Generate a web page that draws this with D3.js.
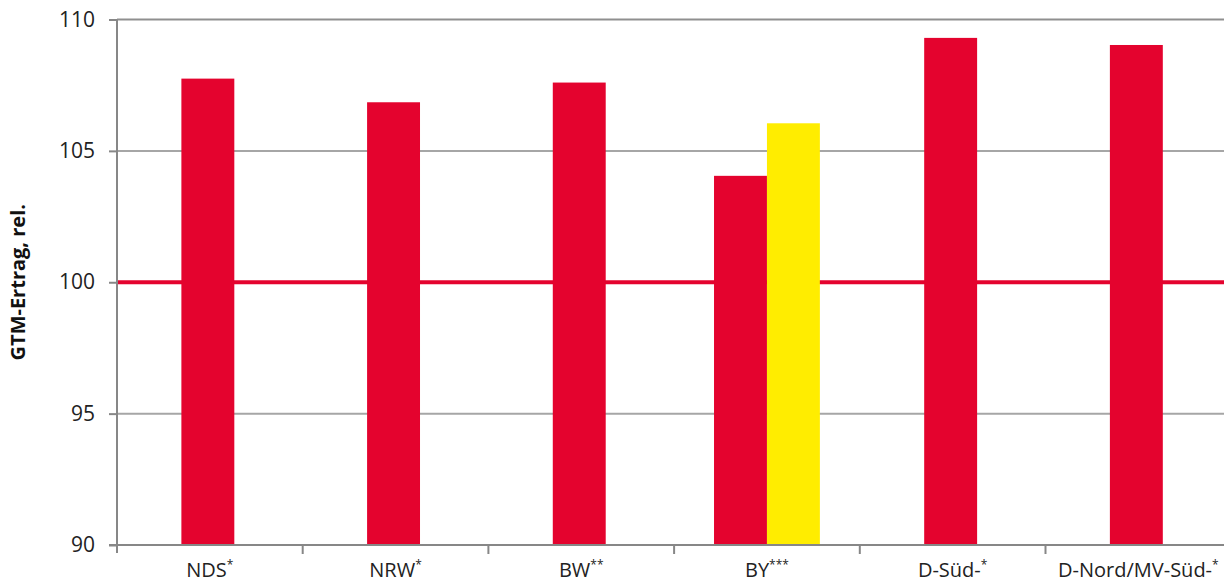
<!DOCTYPE html>
<html>
<head>
<meta charset="utf-8">
<script src="https://cdn.jsdelivr.net/npm/d3@7"></script>
<style>
  body { margin: 0; background: #fff; }
  svg { display: block; font-family: "Open Sans", "Noto Sans", sans-serif; }
</style>
</head>
<body>
<svg id="chart" width="1224" height="584"></svg>
<script>
// categories and their footnote marks
const categories = ["NDS", "NRW", "BW", "BY", "D-Süd-", "D-Nord/MV-Süd-"];
const marks = ["*", "*", "**", "***", "*", "*"];
// red series (all regions), yellow series (only BY)
const redValues = [107.75, 106.85, 107.6, 104.05, 109.3, 109.03];
const yellowValues = [null, null, null, 106.05, null, null];
const yTicks = [90, 95, 100, 105, 110];
const refValue = 100;

const red = "#e4032e", yellow = "#ffed00";
const svg = d3.select("#chart");
const margin = {left: 117, top: 19.5, bottom: 545};
const bandW = 185.7;

const x = d3.scaleBand()
    .domain(categories)
    .range([margin.left, margin.left + bandW * categories.length])
    .paddingInner(0).paddingOuter(0);
const y = d3.scaleLinear().domain([90, 110]).range([margin.bottom, margin.top]);
const barW = x.bandwidth() * 0.285;

// gridlines
svg.append("g").selectAll("line")
    .data(yTicks.filter(d => d !== 90 && d !== refValue)).enter()
    .append("line")
    .attr("x1", margin.left).attr("x2", 1224)
    .attr("y1", d => y(d)).attr("y2", d => y(d))
    .attr("stroke", d => d === 110 ? "#8f8f8f" : "#a6a6a6")
    .attr("stroke-width", 2);

// 100 reference line
svg.append("line")
    .attr("x1", margin.left).attr("x2", 1224)
    .attr("y1", y(refValue)).attr("y2", y(refValue))
    .attr("stroke", red)
    .attr("stroke-width", 4);

// red bars
svg.append("g").selectAll("rect")
    .data(categories).enter()
    .append("rect")
    .attr("x", function(d, i) {
        const c = x(d) + x.bandwidth() / 2;
        return yellowValues[i] !== null ? c - barW : c - barW / 2 - 2;
    })
    .attr("y", (d, i) => y(redValues[i]))
    .attr("width", barW)
    .attr("height", (d, i) => y(90) - y(redValues[i]))
    .attr("fill", red);

// yellow bars
svg.append("g").selectAll("rect")
    .data(categories.filter((d, i) => yellowValues[i] !== null)).enter()
    .append("rect")
    .attr("x", d => x(d) + x.bandwidth() / 2)
    .attr("y", d => y(yellowValues[categories.indexOf(d)]))
    .attr("width", barW)
    .attr("height", d => y(90) - y(yellowValues[categories.indexOf(d)]))
    .attr("fill", yellow);

// y axis
const yAxis = svg.append("g")
    .attr("transform", "translate(" + margin.left + ",0)")
    .call(d3.axisLeft(y).tickValues(yTicks).tickSize(8).tickPadding(14).tickFormat(d3.format("d")));
yAxis.select(".domain").attr("stroke", "#878787").attr("stroke-width", 2)
    .attr("d", "M0," + (margin.top) + "V" + (margin.bottom + 8));
yAxis.selectAll(".tick line").attr("stroke", "#878787").attr("stroke-width", 2);
yAxis.selectAll(".tick text")
    .style("font-size", "21px")
    .style("fill", "#222")
    .style("font-family", "'Open Sans', sans-serif");

// x axis
const xAxis = svg.append("g")
    .attr("transform", "translate(0," + margin.bottom + ")");
xAxis.append("line")
    .attr("x1", margin.left - 8).attr("x2", 1224)
    .attr("stroke", "#878787").attr("stroke-width", 2);
xAxis.selectAll(".xtick")
    .data(categories.slice(1)).enter()
    .append("line")
    .attr("x1", d => x(d)).attr("x2", d => x(d))
    .attr("y1", 0).attr("y2", 9)
    .attr("stroke", "#878787").attr("stroke-width", 2);

const labels = xAxis.selectAll(".xlabel")
    .data(categories).enter()
    .append("text")
    .attr("x", d => x(d) + x.bandwidth() / 2)
    .attr("y", 32)
    .attr("text-anchor", "middle")
    .style("font-size", "20px")
    .style("fill", "#222");
labels.append("tspan").text(d => d);
labels.append("tspan")
    .text((d, i) => marks[i])
    .attr("dy", -8)
    .style("font-size", "12px");

// y axis title
svg.append("text")
    .attr("transform", "translate(25," + ((margin.top + margin.bottom) / 2) + ") rotate(-90)")
    .attr("text-anchor", "middle")
    .style("font-size", "20px")
    .style("font-weight", "bold")
    .style("fill", "#111")
    .text("GTM-Ertrag, rel.");
</script>
</body>
</html>
